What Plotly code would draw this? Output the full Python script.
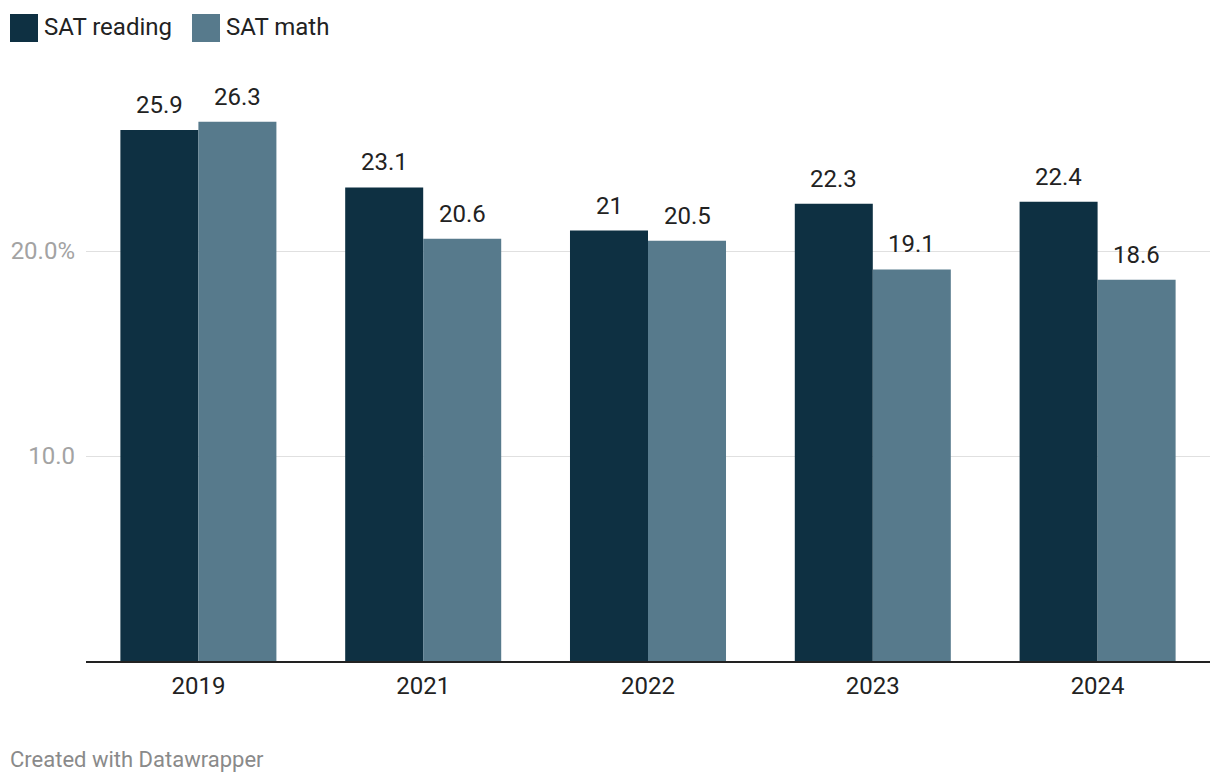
import plotly.graph_objects as go

years = ["2019", "2021", "2022", "2023", "2024"]
sat_reading = [25.9, 23.1, 21.0, 22.3, 22.4]
sat_math = [26.3, 20.6, 20.5, 19.1, 18.6]
reading_labels = ["25.9", "23.1", "21", "22.3", "22.4"]
math_labels = ["26.3", "20.6", "20.5", "19.1", "18.6"]
tick_vals = [10, 20]
tick_text = ["10.0", "20.0%"]

W, H = 1220, 784
ML, MR, MT, MB = 86, 10, 70, 123
PW, PH = W - ML - MR, H - MT - MB

def px(x):
    return (x - ML) / PW

def py(y):
    return (H - MB - y) / PH

DARK = "#0e3042"
LIGHT = "#577a8c"
FONT = "Roboto"
FS = 24

fig = go.Figure()
fig.add_trace(go.Bar(x=years, y=sat_reading, name="SAT reading", marker_color=DARK,
                     marker_line_width=0, showlegend=False, hoverinfo="skip"))
fig.add_trace(go.Bar(x=years, y=sat_math, name="SAT math", marker_color=LIGHT,
                     marker_line_width=0, showlegend=False, hoverinfo="skip"))

annotations = []
for i, (v, t) in enumerate(zip(sat_reading, reading_labels)):
    annotations.append(dict(x=i, y=v, text=t, xref="x", yref="y", showarrow=False,
                            xshift=-39, yshift=9, yanchor="bottom",
                            font=dict(family=FONT, size=FS, color="#222222")))
for i, (v, t) in enumerate(zip(sat_math, math_labels)):
    annotations.append(dict(x=i, y=v, text=t, xref="x", yref="y", showarrow=False,
                            xshift=39, yshift=9, yanchor="bottom",
                            font=dict(family=FONT, size=FS, color="#222222")))

# legend (manual, to get large squares)
shapes = [
    dict(type="rect", xref="paper", yref="paper", x0=px(10), x1=px(38), y0=py(42), y1=py(14),
         fillcolor=DARK, line_width=0),
    dict(type="rect", xref="paper", yref="paper", x0=px(192), x1=px(220), y0=py(42), y1=py(14),
         fillcolor=LIGHT, line_width=0),
]
annotations.append(dict(x=px(42), y=py(27), xref="paper", yref="paper", text="SAT reading",
                        showarrow=False, xanchor="left", yanchor="middle",
                        font=dict(family=FONT, size=FS, color="#222222")))
annotations.append(dict(x=px(224), y=py(27), xref="paper", yref="paper", text="SAT math",
                        showarrow=False, xanchor="left", yanchor="middle",
                        font=dict(family=FONT, size=FS, color="#222222")))
annotations.append(dict(x=px(8), y=py(759), xref="paper", yref="paper", text="Created with Datawrapper",
                        showarrow=False, xanchor="left", yanchor="middle",
                        font=dict(family=FONT, size=22, color="#8a8a8a")))

fig.update_layout(
    width=W, height=H,
    margin=dict(l=ML, r=MR, t=MT, b=MB, autoexpand=False),
    paper_bgcolor="white", plot_bgcolor="white",
    barmode="group", bargap=0.306, bargroupgap=0,
    font=dict(family=FONT),
    shapes=shapes, annotations=annotations,
    xaxis=dict(type="category", range=[-0.5, len(years) - 0.5], showline=True,
               linecolor="#222222", linewidth=2, ticks="",
               tickfont=dict(family=FONT, size=FS, color="#222222"),
               ticklabelstandoff=2,
               showgrid=False, fixedrange=True),
    yaxis=dict(range=[0, PH / 20.5], tickvals=tick_vals, ticktext=tick_text,
               showgrid=True, gridcolor="#e0e0e0", gridwidth=1, zeroline=False,
               tickfont=dict(family=FONT, size=FS, color="#a3a3a3"),
               ticklabelstandoff=10, fixedrange=True),
)

fig.write_html("out.html", config={"displayModeBar": False},
               post_script="document.body.style.margin='0';")
